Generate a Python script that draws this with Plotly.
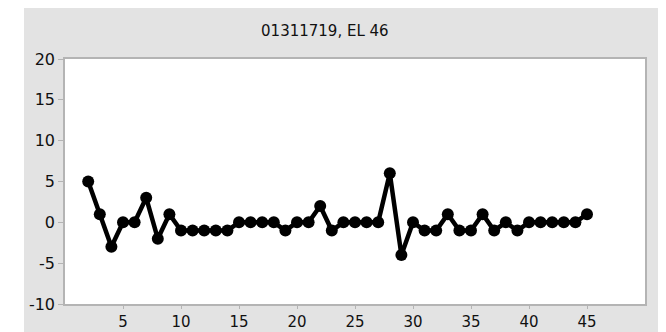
import plotly.graph_objects as go

x_vals = list(range(2, 46))
y_vals = [5, 1, -3, 0, 0, 3, -2, 1, -1, -1, -1, -1, -1, 0, 0, 0, 0, -1, 0, 0,
          2, -1, 0, 0, 0, 0, 6, -4, 0, -1, -1, 1, -1, -1, 1, -1, 0, -1, 0, 0,
          0, 0, 0, 1]
title_text = "01311719, EL 46"
x_ticks = [5, 10, 15, 20, 25, 30, 35, 40, 45]
y_ticks = [-10, -5, 0, 5, 10, 15, 20]
y_ticktext = ["-10", "-5", "0", "5", "10", "15", "20"]

fig = go.Figure()
fig.add_trace(go.Scatter(
    x=x_vals, y=y_vals, mode="lines+markers",
    line=dict(color="black", width=4.5),
    marker=dict(color="black", size=12, symbol="circle"),
    showlegend=False,
))

axis_common = dict(
    showline=True, mirror=True, linecolor="#b4b4b4", linewidth=1.5,
    ticks="outside", tickwidth=1, tickcolor="#b4b4b4",
    showgrid=False, zeroline=False, automargin=False,
)

# page body has an 8px margin; figure is sized/offset to compensate
fig.update_layout(
    width=658, height=324,
    margin=dict(l=57, r=21, t=51, b=28),
    paper_bgcolor="#e3e3e3", plot_bgcolor="white",
    title=dict(text=title_text, x=0.448, xref="paper", xanchor="center",
               y=1 - 23 / 324, yref="container", yanchor="middle",
               font=dict(family="DejaVu Sans", size=15, color="#111111", weight=500)),
    xaxis=dict(range=[0, 50], tickvals=x_ticks, ticklen=3,
               tickfont=dict(family="DejaVu Sans", size=15, color="#111111"),
               **axis_common),
    yaxis=dict(range=[-10, 20], tickvals=y_ticks, ticktext=y_ticktext, ticklen=5,
               tickfont=dict(family="DejaVu Sans", size=16, color="#111111"),
               **axis_common),
    shapes=[
        dict(type="rect", xref="paper", yref="paper", x0=-0.2, x1=-41 / 580, y0=-0.2, y1=1.3,
             fillcolor="white", line=dict(width=0), layer="below"),
    ],
)
fig.write_html("out.html")
